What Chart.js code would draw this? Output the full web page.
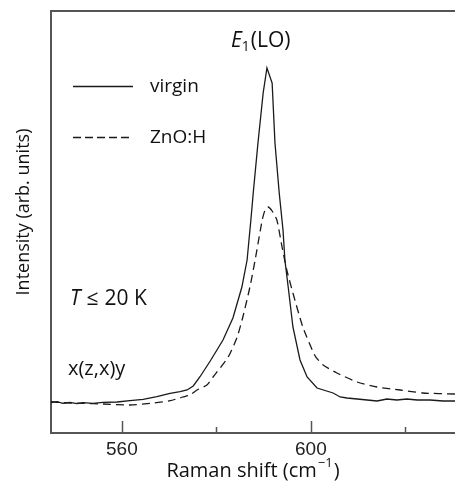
<!DOCTYPE html>
<html>
<head>
<meta charset="utf-8">
<script src="https://cdn.jsdelivr.net/npm/chart.js@4"></script>
<style>
    html, body { margin: 0; padding: 0; background: #fff; }
    #wrap { width: 455px; height: 483px; }
</style>
</head>
<body>
<div id="wrap"><canvas id="grafico_raman"></canvas></div>
<script>
// DATOS
var virginShift = [545.0, 546.3, 547.5, 549.0, 550.5, 551.8, 553.9, 556.0, 559.0, 561.7, 564.5, 567.4, 570.2, 572.3, 573.8, 575.1, 576.5, 578.7, 581.4, 583.5, 585.4, 586.5, 587.3, 587.8, 588.8, 589.9, 590.7, 591.8, 592.4, 593.3, 594.1, 594.5, 595.2, 596.2, 597.7, 599.2, 601.3, 604.7, 606.2, 607.6, 609.8, 611.9, 614.0, 616.1, 618.2, 620.3, 622.5, 625.2, 628.0, 630.5];
var virginIntensity = [30.3, 31.3, 29.7, 30.7, 29.3, 30.3, 29.7, 30.7, 31, 32.3, 33.7, 36.3, 39.7, 41.3, 43, 47, 56, 72, 93, 115, 146, 173, 213, 240, 290, 340, 365, 350, 290, 240, 203, 173, 146, 106, 73, 56, 45, 40, 36, 35, 34, 33, 32, 34, 33, 34, 33, 33, 32, 32];

var znohShift = [545.0, 547.5, 551.8, 556.0, 561.7, 566.0, 570.2, 572.9, 574.4, 575.9, 578.0, 579.3, 582.5, 584.4, 585.6, 587.1, 588.2, 589.7, 590.3, 590.9, 591.8, 592.8, 593.9, 594.9, 596.2, 598.3, 600.9, 602.6, 605.5, 609.8, 614.0, 618.9, 623.7, 630.5];
var znohIntensity = [31.3, 30.3, 29.7, 29, 28, 29.7, 32.3, 36, 38, 43, 48, 56, 76, 96, 116, 146, 173, 213, 223, 226, 222, 213, 186, 163, 140, 106, 77, 68, 60, 51, 46, 43, 40, 39];

var majorTicks = [560, 600];
var minorTicks = [580, 620];
var xMin = 545, xMax = 630.5;

function Armar_Puntos(xs, ys) {
    var pts = [];
    for (var i = 0; i < xs.length; i++) {
        pts.push({ x: xs[i], y: ys[i] });
    }
    return pts;
}

var colorLinea = '#1a1a1a';
var colorEje = '#555555';
var fuenteTexto = '"Open Sans", Lato, sans-serif';

// TEXTOS, MARCAS DE EJE Y LEYENDA
var pluginAnotaciones = {
    id: 'anotaciones',
    afterDraw: function(chart) {
        var ctx = chart.ctx;
        var area = chart.chartArea;
        var sx = chart.scales.x;

        ctx.save();
        // borde superior
        ctx.strokeStyle = colorEje;
        ctx.lineWidth = 2;
        ctx.beginPath();
        ctx.moveTo(area.left - 1, area.top);
        ctx.lineTo(area.right, area.top);
        ctx.stroke();

        // marcas hacia adentro
        ctx.lineWidth = 1.5;
        majorTicks.forEach(function(v) {
            var px = Math.round(sx.getPixelForValue(v)) + 0.5;
            ctx.beginPath();
            ctx.moveTo(px, area.bottom);
            ctx.lineTo(px, area.bottom - 12);
            ctx.stroke();
        });
        minorTicks.forEach(function(v) {
            var px = Math.round(sx.getPixelForValue(v)) + 0.5;
            ctx.beginPath();
            ctx.moveTo(px, area.bottom);
            ctx.lineTo(px, area.bottom - 6);
            ctx.stroke();
        });

        // leyenda
        ctx.strokeStyle = colorLinea;
        ctx.lineWidth = 1.3;
        ctx.beginPath();
        ctx.moveTo(73, 86.5);
        ctx.lineTo(133, 86.5);
        ctx.stroke();
        ctx.setLineDash([8, 4]);
        ctx.beginPath();
        ctx.moveTo(73, 137.5);
        ctx.lineTo(133, 137.5);
        ctx.stroke();
        ctx.setLineDash([]);

        ctx.fillStyle = '#111';
        ctx.textBaseline = 'alphabetic';
        ctx.textAlign = 'left';
        ctx.font = '19px ' + fuenteTexto;
        ctx.fillText('virgin', 150, 92);
        ctx.fillText('ZnO:H', 150, 143);

        // E1(LO)
        ctx.font = 'italic 21px ' + fuenteTexto;
        var x0 = 231;
        ctx.fillText('E', x0, 47);
        x0 += ctx.measureText('E').width;
        ctx.font = '14px ' + fuenteTexto;
        ctx.fillText('1', x0, 51);
        x0 += ctx.measureText('1').width + 1;
        ctx.font = '21px ' + fuenteTexto;
        ctx.fillText('(LO)', x0, 47);

        // T <= 20 K
        ctx.font = 'italic 21px ' + fuenteTexto;
        ctx.fillText('T', 70, 305);
        var tx = 70 + ctx.measureText('T').width + 6;
        ctx.font = '21px ' + fuenteTexto;
        ctx.fillText('\u2264', tx, 305);
        tx += ctx.measureText('\u2264').width + 6;
        ctx.fillText('20 K', tx, 305);

        ctx.font = '20px ' + fuenteTexto;
        ctx.fillText('x(z,x)y', 68, 375);

        // titulo eje x
        ctx.font = '20px ' + fuenteTexto;
        var t1 = 'Raman shift (cm';
        var t2 = '\u22121';
        var t3 = ')';
        var w1 = ctx.measureText(t1).width;
        var w3 = ctx.measureText(t3).width;
        ctx.font = '13px ' + fuenteTexto;
        var w2 = ctx.measureText(t2).width;
        var xs = 252 - (w1 + w2 + w3) / 2;
        ctx.font = '20px ' + fuenteTexto;
        ctx.fillText(t1, xs, 477);
        ctx.font = '13px ' + fuenteTexto;
        ctx.fillText(t2, xs + w1 + 1, 467);
        ctx.font = '20px ' + fuenteTexto;
        ctx.fillText(t3, xs + w1 + w2 + 2, 477);

        // titulo eje y
        ctx.font = '18px ' + fuenteTexto;
        ctx.translate(29, 212);
        ctx.rotate(-Math.PI / 2);
        ctx.textAlign = 'center';
        ctx.fillText('Intensity (arb. units)', 0, 0);
        ctx.restore();
    }
};

// GRAFICO RAMAN
function Cargar_Grafico_Raman() {
    var ctx = document.getElementById('grafico_raman').getContext('2d');
    new Chart(ctx, {
        type: 'line',
        data: {
            datasets: [
                {
                    label: 'virgin',
                    data: Armar_Puntos(virginShift, virginIntensity),
                    borderColor: colorLinea,
                    borderWidth: 1.3,
                    pointRadius: 0,
                    fill: false,
                    tension: 0
                },
                {
                    label: 'ZnO:H',
                    data: Armar_Puntos(znohShift, znohIntensity),
                    borderColor: colorLinea,
                    borderWidth: 1.3,
                    borderDash: [8, 5],
                    pointRadius: 0,
                    fill: false,
                    tension: 0.2
                }
            ]
        },
        options: {
            responsive: true,
            maintainAspectRatio: false,
            animation: false,
            layout: {
                padding: { left: 51, top: 11, right: 0, bottom: 10 }
            },
            plugins: {
                legend: { display: false },
                tooltip: { enabled: false },
                title: { display: false }
            },
            scales: {
                x: {
                    type: 'linear',
                    min: xMin,
                    max: xMax,
                    afterBuildTicks: function(scale) {
                        scale.ticks = majorTicks.map(function(v) { return { value: v }; });
                    },
                    afterFit: function(scale) {
                        scale.height = 40;
                    },
                    grid: { display: false },
                    border: { display: true, color: colorEje, width: 2 },
                    ticks: {
                        padding: -3,
                        color: '#222',
                        maxRotation: 0,
                        font: { family: '"Liberation Sans", Arial, sans-serif', size: 19 },
                        callback: function(value) { return value; }
                    }
                },
                y: {
                    min: 0,
                    max: 422,
                    afterFit: function(scale) {
                        scale.width = 0;
                    },
                    grid: { display: false },
                    border: { display: true, color: colorEje, width: 2 },
                    ticks: { display: false }
                }
            }
        },
        plugins: [pluginAnotaciones]
    });
}

Cargar_Grafico_Raman();
</script>
</body>
</html>
